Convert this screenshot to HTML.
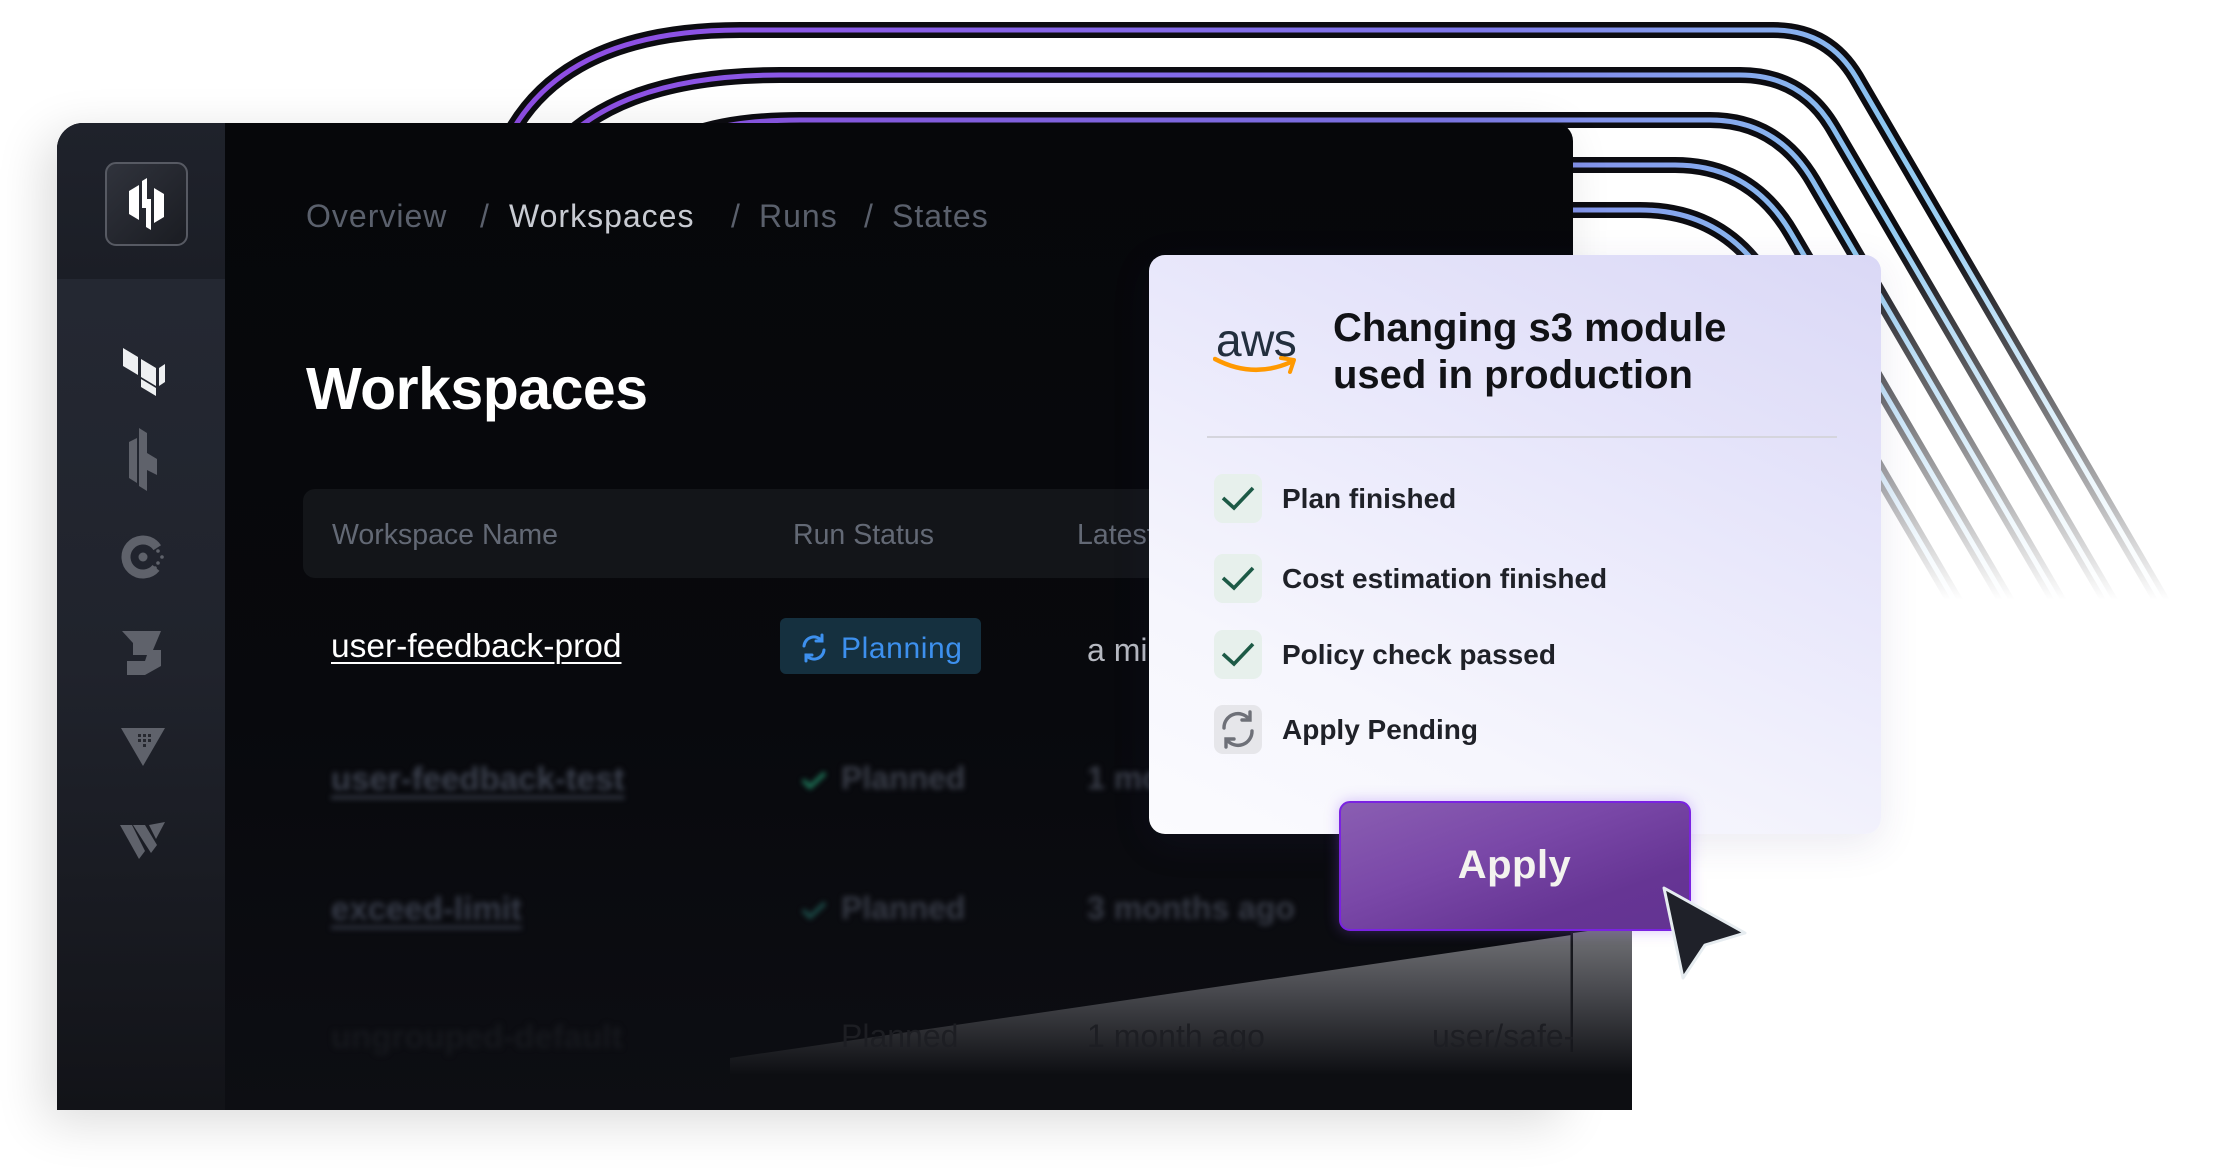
<!DOCTYPE html>
<html><head><meta charset="utf-8">
<style>
*{margin:0;padding:0;box-sizing:border-box}
html,body{width:2226px;height:1169px;overflow:hidden;background:#fff;font-family:"Liberation Sans",sans-serif}
.abs{position:absolute;white-space:nowrap}
#panel{position:absolute;left:57px;top:123px;width:1516px;height:987px;border-radius:26px 18px 0 0;background:linear-gradient(180deg,#06070a 0%,#08090d 60%,#0d0e13 100%);box-shadow:-12px 12px 50px rgba(0,0,0,0.14);overflow:hidden}
#ext{position:absolute;left:1560px;top:835px;width:72px;height:275px;background:#0d0e12}
#side{position:absolute;left:0;top:0;width:168px;height:987px;background:linear-gradient(180deg,#262a35 0%,#20232c 55%,#121318 100%)}
#sidetop{position:absolute;left:0;top:0;width:168px;height:156px;background:linear-gradient(180deg,#1f222b,#1b1e26)}
#logo{position:absolute;left:48px;top:39px;width:83px;height:84px;border:2px solid #575a63;border-radius:11px;background:linear-gradient(135deg,#30333c,#1a1c22)}
.bc{font-size:32px;letter-spacing:1px;color:#5a606c;top:75px}
.hd{font-size:28.5px;color:#636975;top:519px}
.blur{filter:blur(2.6px)}
#card{position:absolute;left:1149px;top:255px;width:732px;height:579px;border-radius:16px;background:linear-gradient(205deg,#dad8f6 0%,#e9e8fb 40%,#f6f6fd 75%,#fbfbfe 100%);box-shadow:0 10px 40px rgba(60,50,120,0.10)}
.it{font-size:28px;font-weight:bold;color:#1f2128}
.box{position:absolute;width:48px;height:49px;border-radius:9px;background:#e7f0ec}
#btn{position:absolute;left:1339px;top:801px;width:352px;height:130px;border:2.5px solid #7a22e2;border-radius:11px;background:linear-gradient(160deg,#8a5eb2 0%,#7a48a8 40%,#663594 75%,#633392 100%);box-shadow:0 0 14px rgba(140,80,240,0.35)}
</style></head><body>

<svg class="abs" style="left:0;top:0" width="2226" height="1169" viewBox="0 0 2226 1169">
<defs>
<linearGradient id="gin" gradientUnits="userSpaceOnUse" x1="600" y1="0" x2="2150" y2="600">
<stop offset="0" stop-color="#8e4ee4"/><stop offset="0.5" stop-color="#7e78ea"/><stop offset="0.75" stop-color="#8cc6f0"/><stop offset="1" stop-color="#e2f4fb"/></linearGradient>
<linearGradient id="gm" gradientUnits="userSpaceOnUse" x1="0" y1="240" x2="0" y2="600">
<stop offset="0" stop-color="#fff"/><stop offset="0.5" stop-color="#8a8a8a"/><stop offset="1" stop-color="#000"/></linearGradient>
<mask id="fade" maskUnits="userSpaceOnUse" x="0" y="0" width="2226" height="1169"><rect x="0" y="0" width="2226" height="1169" fill="url(#gm)"/></mask>
</defs>
<g mask="url(#fade)" fill="none" stroke-linecap="round">
<g stroke="#0c0c11" stroke-width="16">
<path d="M495,170 Q540,30 740,30 H1773 Q1828,30 1856,77 L2190,650"/>
<path d="M540,170 Q600,75 780,75 H1740 Q1802,75 1833,128 L2150,670"/>
<path d="M640,175 Q670,120 800,120 H1710 Q1777,120 1813,181 L2110,690"/>
<path d="M1450,165 H1675 Q1751,165 1791,233 L2070,710"/>
<path d="M1450,210 H1640 Q1726,210 1770,285 L2030,730"/>
</g>
<g stroke="url(#gin)" stroke-width="5">
<path d="M495,170 Q540,30 740,30 H1773 Q1828,30 1856,77 L2190,650"/>
<path d="M540,170 Q600,75 780,75 H1740 Q1802,75 1833,128 L2150,670"/>
<path d="M640,175 Q670,120 800,120 H1710 Q1777,120 1813,181 L2110,690"/>
<path d="M1450,165 H1675 Q1751,165 1791,233 L2070,710"/>
<path d="M1450,210 H1640 Q1726,210 1770,285 L2030,730"/>
</g>
</g>
</svg>

<div id="ext"></div>
<div id="panel">
  <div id="side">
    <div id="sidetop"></div>
    <div id="logo">
      <svg width="79" height="80" viewBox="0 0 79 80">
        <g fill="#fff">
          <polygon points="22,27 32,21 32,56 22,50"/>
          <polygon points="35,17 40,14 40,44 35,44"/>
          <polygon points="35,35 44,35 44,42 35,42"/>
          <polygon points="39,36 44,36 44,66 39,63"/>
          <polygon points="47,24 57,30 57,53 47,59"/>
        </g>
      </svg>
    </div>
    <svg class="abs" style="left:0;top:0" width="168" height="800" viewBox="0 0 168 800">
      <g fill="#eef0f2">
        <polygon points="66,225 81,234 81,252 66,243"/>
        <polygon points="84,236 99,245 99,263 84,254"/>
        <polygon points="102,245 108,241 108,259 102,263"/>
        <polygon points="84,256 99,265 99,273 84,264"/>
      </g>
      <g fill="#5f626b">
        <polygon points="72,319 80,315 80,360 72,355"/>
        <polygon points="82,305 90,310 90,330 100,336 100,352 90,347 90,368 82,363"/>
      </g>
      <g>
        <circle cx="86" cy="434" r="17" fill="none" stroke="#5f626b" stroke-width="9" stroke-dasharray="85 30" transform="rotate(40 86 434)"/>
        <circle cx="86" cy="434" r="4.5" fill="#5f626b"/>
        <g fill="#5f626b"><circle cx="101" cy="428" r="1.8"/><circle cx="105" cy="434" r="1.8"/><circle cx="101" cy="440" r="1.8"/><circle cx="98" cy="423" r="1.8"/><circle cx="98" cy="445" r="1.8"/></g>
      </g>
      <g fill="#5f626b">
        <polygon points="65,508 104,508 96,527 104,527 104,543 88,552 70,552 70,538 88,538 90,532 76,532 76,520"/>
      </g>
      <g fill="#5f626b">
        <polygon points="64,605 108,605 86,643"/>
      </g>
      <g fill="#26282f"><rect x="81" y="611" width="3" height="3"/><rect x="86" y="611" width="3" height="3"/><rect x="91" y="611" width="3" height="3"/><rect x="81" y="616" width="3" height="3"/><rect x="86" y="616" width="3" height="3"/><rect x="91" y="616" width="3" height="3"/><rect x="86" y="621" width="3" height="3"/></g>
      <g fill="#5f626b">
        <polygon points="63,702 75,702 88,728 82,736"/>
        <polygon points="76,702 88,702 100,722 94,730"/>
        <polygon points="92,702 108,699 99,716"/>
      </g>
    </svg>
  </div>

  <div class="abs bc" style="left:249px">Overview</div>
  <div class="abs bc" style="left:423px">/</div>
  <div class="abs bc" style="left:452px;color:#c8cbd2">Workspaces</div>
  <div class="abs bc" style="left:674px">/</div>
  <div class="abs bc" style="left:702px">Runs</div>
  <div class="abs bc" style="left:807px">/</div>
  <div class="abs bc" style="left:835px">States</div>

  <div class="abs" style="left:249px;top:232px;font-size:59px;font-weight:bold;color:#fff;letter-spacing:-0.5px">Workspaces</div>

  <div class="abs" style="left:246px;top:366px;width:1400px;height:89px;border-radius:12px;background:#131519"></div>
  <div class="abs hd" style="left:275px;top:396px">Workspace Name</div>
  <div class="abs hd" style="left:736px;top:396px">Run Status</div>
  <div class="abs hd" style="left:1020px;top:396px">Latest Change</div>

  <div class="abs" style="left:274px;top:505px;font-size:33.5px;color:#fff;text-decoration:underline;text-underline-offset:5px;text-decoration-thickness:2px">user-feedback-prod</div>
  <div class="abs" style="left:723px;top:495px;width:201px;height:56px;border-radius:6px;background:#15303f"></div>
  <svg class="abs" style="left:742px;top:510px" width="30" height="30" viewBox="0 0 30 30"><g fill="none" stroke="#3d90ee" stroke-width="3" stroke-linecap="round"><path d="M5,13 A10,10 0 0 1 23,8"/><path d="M25,17 A10,10 0 0 1 7,22"/><path d="M23,2 V8 H17"/><path d="M7,28 V22 H13"/></g></svg>
  <div class="abs" style="left:784px;top:509px;font-size:30px;letter-spacing:0.6px;color:#3d90ee">Planning</div>
  <div class="abs" style="left:1030px;top:509px;font-size:32px;color:#b6b9c1">a minute ago</div>

  <div class="blur">
  <div class="abs" style="left:274px;top:637px;font-size:33px;font-weight:bold;color:#3b404d;text-decoration:underline;text-underline-offset:6px">user-feedback-test</div>
  <svg class="abs" style="left:744px;top:647px" width="26" height="20"><path d="M2,10 L9,17 L24,3" fill="none" stroke="#1f7a5c" stroke-width="4"/></svg>
  <div class="abs" style="left:784px;top:637px;font-size:32px;font-weight:bold;color:#393d48">Planned</div>
  <div class="abs" style="left:1030px;top:637px;font-size:32px;font-weight:bold;color:#393d48">1 month ago</div>

  <div class="abs" style="left:274px;top:767px;font-size:33px;font-weight:bold;color:#363b48;text-decoration:underline;text-underline-offset:6px">exceed-limit</div>
  <svg class="abs" style="left:744px;top:777px" width="26" height="20"><path d="M2,10 L9,17 L24,3" fill="none" stroke="#1c4e4a" stroke-width="4"/></svg>
  <div class="abs" style="left:784px;top:767px;font-size:32px;font-weight:bold;color:#353944">Planned</div>
  <div class="abs" style="left:1030px;top:767px;font-size:32px;font-weight:bold;color:#353944">3 months ago</div>

  <div class="abs" style="left:274px;top:895px;font-size:33px;font-weight:bold;color:#16181d">ungrouped-default</div>
  </div>

  <svg class="abs" style="left:0;top:0" width="1516" height="987" viewBox="57 123 1516 987">
    <defs><linearGradient id="wg" gradientUnits="userSpaceOnUse" x1="0" y1="925" x2="0" y2="1075">
      <stop offset="0" stop-color="#747579"/><stop offset="0.45" stop-color="#47484d"/><stop offset="1" stop-color="#0d0e12"/></linearGradient></defs>
    <polygon points="730,1058 1640,925 1640,1110 730,1110" fill="url(#wg)"/>
    <line x1="1572" y1="932" x2="1572" y2="1052" stroke="#17181d" stroke-width="3"/>
  </svg>
  <div class="abs" style="left:784px;top:895px;font-size:32px;color:#1d1e23">Planned</div>
  <div class="abs" style="left:1030px;top:895px;font-size:32px;color:#1d1e23">1 month ago</div>
  <div class="abs" style="left:1375px;top:895px;font-size:32px;color:#1d1e23">user/safe-</div>
</div>
<svg class="abs" style="left:1573px;top:835px" width="59" height="275" viewBox="1573 835 59 275">
  <defs><linearGradient id="wg2" gradientUnits="userSpaceOnUse" x1="0" y1="925" x2="0" y2="1075">
    <stop offset="0" stop-color="#747579"/><stop offset="0.45" stop-color="#47484d"/><stop offset="1" stop-color="#0d0e12"/></linearGradient></defs>
  <polygon points="1573,933 1632,925 1632,1110 1573,1110" fill="url(#wg2)"/>
</svg>

<div id="card">
  <div class="abs" style="left:67px;top:58px;font-size:46px;color:#232f3e;letter-spacing:-0.5px">aws</div>
  <svg class="abs" style="left:64px;top:100px" width="86" height="22" viewBox="0 0 86 22"><path d="M2,4 Q40,24 78,7" fill="none" stroke="#ff9900" stroke-width="4.5" stroke-linecap="round"/><path d="M68,3 L81,5 L77,17" fill="none" stroke="#ff9900" stroke-width="4" stroke-linecap="round" stroke-linejoin="round"/></svg>
  <div class="abs" style="left:184px;top:50px;font-size:40px;font-weight:bold;color:#111216;line-height:47px">Changing s3 module<br>used in production</div>
  <div class="abs" style="left:58px;top:181px;width:630px;height:2px;background:#d5d5dd"></div>

  <div class="box" style="left:65px;top:219px"></div>
  <svg class="abs" style="left:65px;top:219px" width="48" height="49"><path d="M9,24 L20,34 L39,14" fill="none" stroke="#1d5a46" stroke-width="3.6"/></svg>
  <div class="abs it" style="left:133px;top:228px">Plan finished</div>

  <div class="box" style="left:65px;top:299px"></div>
  <svg class="abs" style="left:65px;top:299px" width="48" height="49"><path d="M9,24 L20,34 L39,14" fill="none" stroke="#1d5a46" stroke-width="3.6"/></svg>
  <div class="abs it" style="left:133px;top:308px">Cost estimation finished</div>

  <div class="box" style="left:65px;top:375px"></div>
  <svg class="abs" style="left:65px;top:375px" width="48" height="49"><path d="M9,24 L20,34 L39,14" fill="none" stroke="#1d5a46" stroke-width="3.6"/></svg>
  <div class="abs it" style="left:133px;top:384px">Policy check passed</div>

  <div class="box" style="left:65px;top:450px;background:#e6e6ea"></div>
  <svg class="abs" style="left:65px;top:450px" width="48" height="49" viewBox="0 0 48 49"><g fill="none" stroke="#6e7078" stroke-width="3.4" stroke-linecap="round"><path d="M10,23 A14,14 0 0 1 35,14"/><path d="M38,26 A14,14 0 0 1 13,35"/><path d="M36,7 V15 H28"/><path d="M12,42 V34 H20"/></g></svg>
  <div class="abs it" style="left:133px;top:459px">Apply Pending</div>
</div>

<div id="btn"><div class="abs" style="left:0;top:40px;width:347px;text-align:center;font-size:40px;font-weight:bold;color:#f3f3ef;letter-spacing:0.5px">Apply</div></div>

<svg class="abs" style="left:0;top:0" width="2226" height="1169" viewBox="0 0 2226 1169">
  <polygon points="1664,888 1745,933 1705,945 1683,978" fill="#1f2129" stroke="#e6ecf0" stroke-width="3" stroke-linejoin="round"/>
</svg>
</body></html>
